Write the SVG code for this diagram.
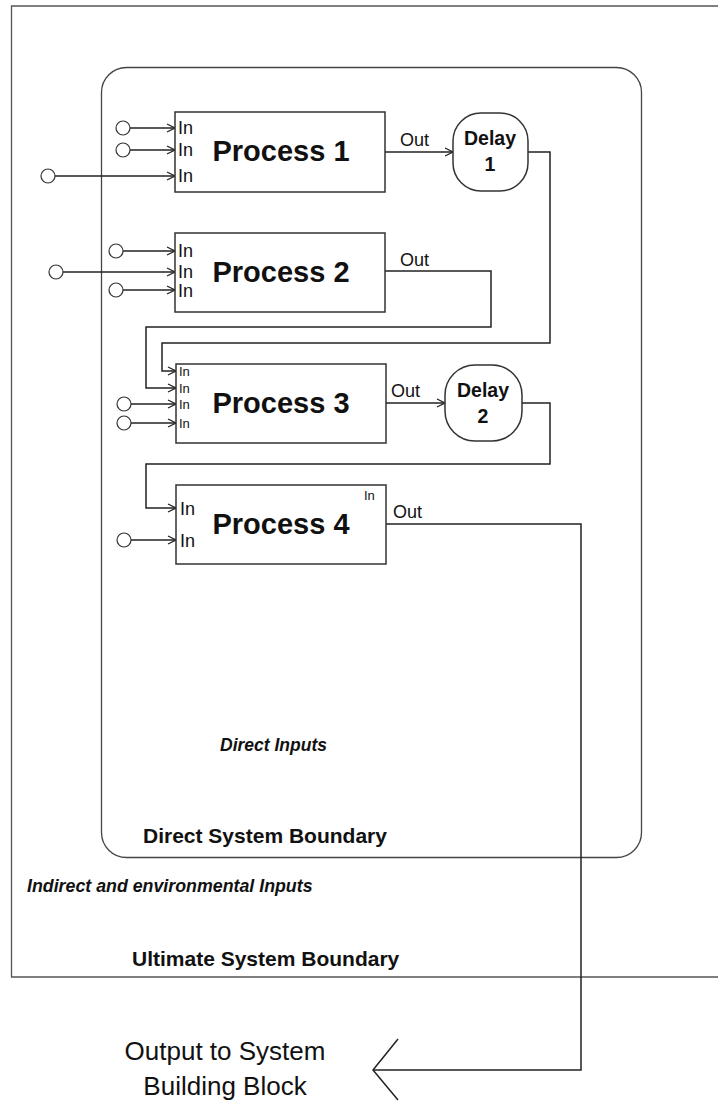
<svg xmlns="http://www.w3.org/2000/svg" width="718" height="1101" viewBox="0 0 718 1101">
<defs>
<marker id="arr" markerWidth="10" markerHeight="10" refX="9" refY="5" orient="auto" markerUnits="userSpaceOnUse">
<path d="M1,1 L9,5 L1,9" fill="none" stroke="#222" stroke-width="1.3"/>
</marker>
<style>
.box{fill:#fff;stroke:#333;stroke-width:1.5}
.ln{fill:none;stroke:#222;stroke-width:1.5}
.src{fill:#fff;stroke:#333;stroke-width:1.2}
.t{font-family:"Liberation Sans",Arial,sans-serif;fill:#111}
.in{font-size:18px}
.in3{font-size:13px}
.pl{font-size:29px;font-weight:bold;text-anchor:middle}
.dl{font-size:19.5px;font-weight:bold;text-anchor:middle}
.out{font-size:18px}
</style>
</defs>
<rect width="718" height="1101" fill="#fff"/>
<g id="ultimate-boundary">
<path d="M725,6 L11.5,6 L11.5,977 L725,977" fill="none" stroke="#555" stroke-width="1.3"/>
<text class="t" x="132" y="966" font-size="21" font-weight="bold">Ultimate System Boundary</text>
<text class="t" x="27" y="892" font-size="17.8" font-weight="bold" font-style="italic">Indirect and environmental Inputs</text>
</g>
<g id="direct-boundary">
<rect x="101.5" y="67.5" width="540" height="790" rx="25" ry="25" fill="none" stroke="#444" stroke-width="1.3"/>
<text class="t" x="143" y="843" font-size="21" font-weight="bold">Direct System Boundary</text>
<text class="t" x="220" y="751" font-size="17.5" font-weight="bold" font-style="italic">Direct Inputs</text>
</g>
<g id="connectors">
<line class="ln" x1="130" y1="128" x2="175" y2="128" marker-end="url(#arr)"/>
<line class="ln" x1="130" y1="150" x2="175" y2="150" marker-end="url(#arr)"/>
<line class="ln" x1="55" y1="176" x2="175" y2="176" marker-end="url(#arr)"/>
<line class="ln" x1="123" y1="251" x2="175" y2="251" marker-end="url(#arr)"/>
<line class="ln" x1="63" y1="272" x2="175" y2="272" marker-end="url(#arr)"/>
<line class="ln" x1="123" y1="290" x2="175" y2="290" marker-end="url(#arr)"/>
<line class="ln" x1="131" y1="404" x2="176" y2="404" marker-end="url(#arr)"/>
<line class="ln" x1="131" y1="423" x2="176" y2="423" marker-end="url(#arr)"/>
<line class="ln" x1="131" y1="540" x2="176" y2="540" marker-end="url(#arr)"/>
<line class="ln" x1="385" y1="152" x2="453" y2="152" marker-end="url(#arr)"/>
<polyline class="ln" points="528,152 550,152 550,343 162,343 162,371 176,371" marker-end="url(#arr)"/>
<polyline class="ln" points="385,271 491,271 491,327 146,327 146,388 176,388" marker-end="url(#arr)"/>
<line class="ln" x1="386" y1="403" x2="445" y2="403" marker-end="url(#arr)"/>
<polyline class="ln" points="522,403 550,403 550,464 146,464 146,508 176,508" marker-end="url(#arr)"/>
<polyline class="ln" points="386,524 581,524 581,1070 373,1070"/>
<polyline class="ln" points="398,1039 373,1070 398,1100" stroke-width="1.2"/>
</g>
<g id="sources">
<circle class="src" cx="123" cy="128" r="7"/>
<circle class="src" cx="123" cy="150" r="7"/>
<circle class="src" cx="48" cy="176" r="7"/>
<circle class="src" cx="116" cy="251" r="7"/>
<circle class="src" cx="56" cy="272" r="7"/>
<circle class="src" cx="116" cy="290" r="7"/>
<circle class="src" cx="124" cy="404" r="7"/>
<circle class="src" cx="124" cy="423" r="7"/>
<circle class="src" cx="124" cy="540" r="7"/>
</g>
<g id="process1">
<rect class="box" x="175" y="112" width="210" height="80"/>
<text class="t in" x="178" y="134">In</text>
<text class="t in" x="178" y="156">In</text>
<text class="t in" x="178" y="182">In</text>
<text class="t pl" x="281" y="161">Process 1</text>
<text class="t out" x="400" y="146">Out</text>
</g>
<g id="delay1">
<rect class="box" x="453" y="113" width="75" height="78" rx="28" ry="28"/>
<text class="t dl" x="490" y="145">Delay</text>
<text class="t dl" x="490" y="171">1</text>
</g>
<g id="process2">
<rect class="box" x="175" y="233" width="210" height="79"/>
<text class="t in" x="178" y="257">In</text>
<text class="t in" x="178" y="278">In</text>
<text class="t in" x="178" y="297">In</text>
<text class="t pl" x="281" y="282">Process 2</text>
<text class="t out" x="400" y="266">Out</text>
</g>
<g id="process3">
<rect class="box" x="176" y="364" width="210" height="79"/>
<text class="t in3" x="179" y="376">In</text>
<text class="t in3" x="179" y="393">In</text>
<text class="t in3" x="179" y="409">In</text>
<text class="t in3" x="179" y="428">In</text>
<text class="t pl" x="281" y="413">Process 3</text>
<text class="t out" x="391" y="397">Out</text>
</g>
<g id="delay2">
<rect class="box" x="445" y="365" width="77" height="76" rx="30" ry="30"/>
<text class="t dl" x="483" y="397">Delay</text>
<text class="t dl" x="483" y="423">2</text>
</g>
<g id="process4">
<rect class="box" x="176" y="485" width="210" height="79"/>
<text class="t in" x="180" y="515">In</text>
<text class="t in" x="180" y="547">In</text>
<text class="t in3" x="364" y="500">In</text>
<text class="t pl" x="281" y="534">Process 4</text>
<text class="t out" x="393" y="518">Out</text>
</g>
<g id="output-label">
<text class="t" x="225" y="1060" font-size="26" text-anchor="middle">Output to System</text>
<text class="t" x="225" y="1095" font-size="26" text-anchor="middle">Building Block</text>
</g>
</svg>
